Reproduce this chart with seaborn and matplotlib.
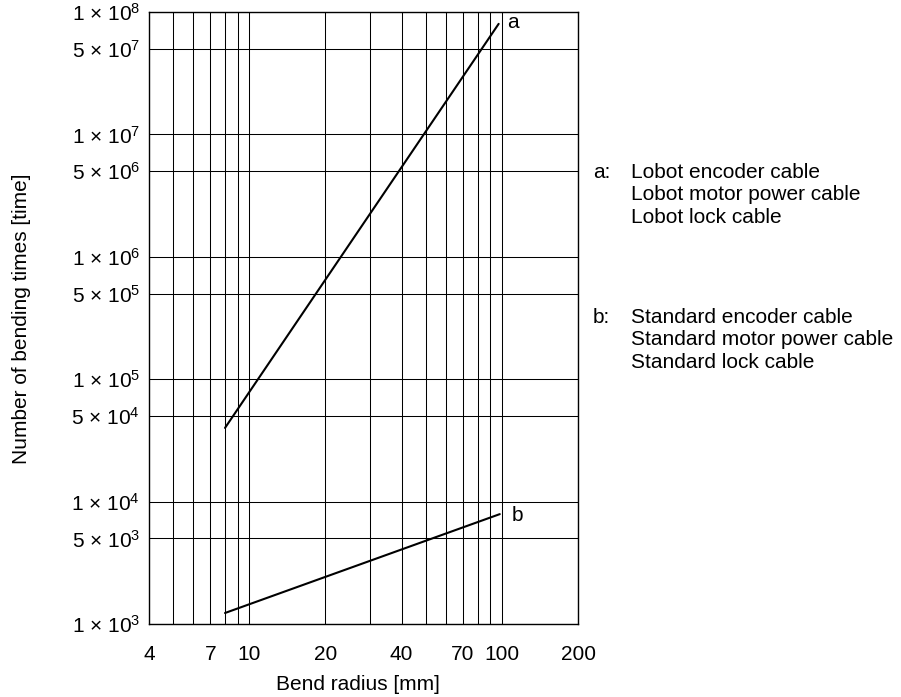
import matplotlib

matplotlib.use("Agg")
import matplotlib.pyplot as plt
import numpy as np
import pandas as pd
import seaborn as sns

# values
radius_a = [8, 97]
cycles_a = [4.0e4, 8.0e7]
radius_b = [8, 98]
cycles_b = [1.23e3, 7.9e3]

x_ticks = [4, 5, 6, 7, 8, 9, 10, 20, 30, 40, 50, 60, 70, 80, 90, 100, 200]
x_labels = ["4", "", "", "7", "", "", "10", "20", "", "40", "", "", "70", "", "", "100", "200"]
y_ticks = [1e3, 5e3, 1e4, 5e4, 1e5, 5e5, 1e6, 5e6, 1e7, 5e7, 1e8]
y_labels = [
    "1 × $\\mathregular{10^{3}}$", "5 × $\\mathregular{10^{3}}$",
    "1 × $\\mathregular{10^{4}}$", "5 × $\\mathregular{10^{4}}$",
    "1 × $\\mathregular{10^{5}}$", "5 × $\\mathregular{10^{5}}$",
    "1 × $\\mathregular{10^{6}}$", "5 × $\\mathregular{10^{6}}$",
    "1 × $\\mathregular{10^{7}}$", "5 × $\\mathregular{10^{7}}$",
    "1 × $\\mathregular{10^{8}}$",
]
legend_a = ["Lobot encoder cable", "Lobot motor power cable", "Lobot lock cable"]
legend_b = ["Standard encoder cable", "Standard motor power cable", "Standard lock cable"]

sns.set_theme(style="white")
plt.rcParams["font.family"] = ["Liberation Sans", "DejaVu Sans"]
plt.rcParams["mathtext.fontset"] = "custom"
plt.rcParams["mathtext.rm"] = "Liberation Sans"
plt.rcParams["text.color"] = "black"
plt.rcParams["axes.labelcolor"] = "black"

W, H = 901, 697
fig = plt.figure(figsize=(W / 100, H / 100), dpi=100)
ax = fig.add_axes([149 / W, 73 / H, 429 / W, 612 / H])

df = pd.concat(
    [
        pd.DataFrame({"radius": radius_a, "cycles": cycles_a, "cable": "a"}),
        pd.DataFrame({"radius": radius_b, "cycles": cycles_b, "cable": "b"}),
    ]
)
sns.lineplot(
    data=df, x="radius", y="cycles", hue="cable",
    palette={"a": "black", "b": "black"}, linewidth=1.5, legend=False, ax=ax,
)

ax.set_xscale("log")
ax.set_yscale("log")
ax.set_xlim(4, 200)
ax.set_ylim(1e3, 1e8)
ax.set_xticks(x_ticks, x_labels)
ax.set_yticks(y_ticks, y_labels)
ax.minorticks_off()
ax.tick_params(axis="both", length=0, labelsize=15, colors="black")
ax.tick_params(axis="x", pad=15)
ax.tick_params(axis="y", pad=6.5)
ax.grid(True, which="major", color="black", linewidth=0.75)
for s in ax.spines.values():
    s.set_color("black")
    s.set_linewidth(1.0)

ax.set_xlabel("Bend radius [mm]", fontsize=15)
ax.set_ylabel("Number of bending times [time]", fontsize=15)
ax.xaxis.set_label_coords(0.487, -0.083)
ax.yaxis.set_label_coords(-0.276, 0.498)

# curve labels
ax.annotate("a", xy=(radius_a[-1], cycles_a[-1]), xytext=(5.8, -2.9),
            textcoords="offset points", ha="left", va="baseline", fontsize=15)
ax.annotate("b", xy=(radius_b[-1], cycles_b[-1]), xytext=(8.6, -5),
            textcoords="offset points", ha="left", va="baseline", fontsize=15)

# side notes
def note(tag, lines, y0):
    fig.text(593 / W, 1 - y0 / H, tag, ha="left", va="baseline", fontsize=15)
    for i, line in enumerate(lines):
        fig.text(631 / W, 1 - (y0 + i * 22.5) / H, line, ha="left", va="baseline", fontsize=15)

note("a:", legend_a, 178)
note("b:", legend_b, 323)

fig.savefig("out.png", dpi=100)
